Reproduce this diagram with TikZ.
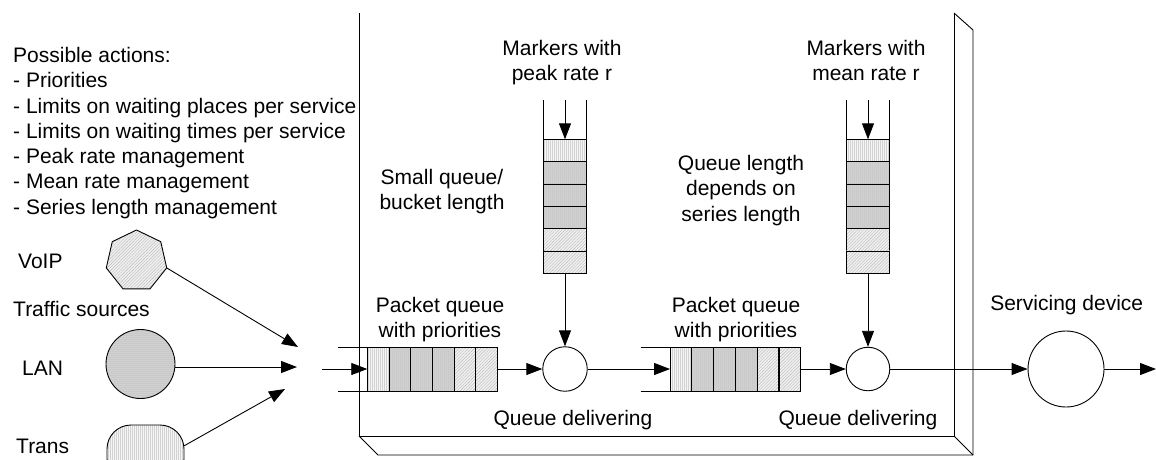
\documentclass[tikz,border=0pt]{standalone}
\usepackage{fontspec}
\setmainfont{Liberation Sans}
\usetikzlibrary{shapes.geometric,patterns.meta,arrows.meta}
\tikzset{
  txt/.style={font=\fontsize{21}{25.3}\selectfont, inner sep=0pt, align=center},
  ln/.style={line width=0.9pt},
  arr/.style={ln, -{Triangle[length=16pt,width=12pt]}},
  lightfill/.style={preaction={fill=gray!8}, pattern={Lines[angle=90,distance=2pt,line width=0.4pt]}, pattern color=gray!35},
  darkfill/.style={preaction={fill=gray!33}, pattern={Dots[radius=0.5pt,distance=2pt]}, pattern color=gray!75},
  hatchfill/.style={preaction={fill=gray!12}, pattern={Lines[angle=45,distance=2.2pt,line width=0.4pt]}, pattern color=gray!55},
  hcell/.style={draw, ln, minimum width=21.7pt, minimum height=44pt, inner sep=0pt, outer sep=0pt},
  vcell/.style={draw, ln, minimum width=43.5pt, minimum height=22.33pt, inner sep=0pt, outer sep=0pt},
  rnd/.style={draw, ln, circle, fill=white, inner sep=0pt},
}
\begin{document}
\begin{tikzpicture}[x=1pt,y=-1pt]
\clip (0,0) rectangle (1156,459);
\fill[white] (0,0) rectangle (1156,459);

% frame (3D box)
\draw[ln] (359,13) -- (359,436) -- (954,436) -- (954,13);
\draw[ln] (954,13) -- (973,30) -- (973,455) -- (378,455) -- (359,436);
\draw[ln] (954,436) -- (973,455);

% left text
\node[txt, align=left, anchor=north west] (actions) at (13,47)
  {Possible actions:\\- Priorities\\- Limits on waiting places per service\\- Limits on waiting times per service\\- Peak rate management\\- Mean rate management\\- Series length management};
\node[txt, anchor=base west] (voipl) at (18,268) {VoIP};
\node[txt, anchor=base west] (srcl) at (13,316) {Traffic sources};
\node[txt, anchor=base west] (lanl) at (22,375) {LAN};
\node[txt, anchor=base west] (transl) at (16,453) {Trans};

% sources
\node[draw, ln, regular polygon, regular polygon sides=7, minimum size=62pt, inner sep=0pt, hatchfill] (voip) at (136.5,261) {};
\node[draw, ln, circle, minimum size=69pt, inner sep=0pt, darkfill] (lan) at (140.5,364) {};
\node[draw, ln, rectangle, rounded corners=24pt, minimum width=77pt, minimum height=58pt, inner sep=0pt, lightfill] (trans) at (145.5,454) {};

\coordinate (t1) at (298,347);
\coordinate (t2) at (297,367);
\coordinate (t3) at (285,389);
\draw[arr] (voip.-13) -- (t1);
\draw[arr] (lan.east |- t2) -- (t2);
\draw[arr] (trans.12) -- (t3);

% queue 1
\foreach \i/\s in {1/lightfill,2/darkfill,3/darkfill,4/darkfill,5/hatchfill,6/hatchfill}
  \node[hcell, \s] (qa\i) at ({367.3+21.67*(\i-0.5)},369) {};
\draw[ln] (338,347) -- (qa1.north west);
\draw[ln] (338,391) -- (qa1.south west);
\coordinate (qin) at (322,369);
\draw[arr] (qin) -- (qa1.west);

% queue 2
\foreach \i/\s in {1/lightfill,2/darkfill,3/darkfill,4/darkfill,5/hatchfill,6/hatchfill}
  \node[hcell, \s] (qb\i) at ({670+21.78*(\i-0.5)},369) {};
\draw[ln] (640.7,347) -- (qb1.north west);
\draw[ln] (640.7,391) -- (qb1.south west);

% delivering circles and servicing device
\node[rnd, minimum size=44.5pt] (c1) at (565,369) {};
\node[rnd, minimum size=43.5pt] (c2) at (868,369) {};
\node[rnd, minimum size=76pt] (srv) at (1066,369) {};
\coordinate (out) at (1156,369);

\draw[arr] (qa6.east) -- (c1.west);
\draw[arr] (c1.east) -- (qb1.west);
\draw[arr] (qb6.east) -- (c2.west);
\draw[arr] (c2.east) -- (srv.west);
\draw[arr] (srv.east) -- (out);

% marker stacks
\foreach \i/\s in {1/lightfill,2/darkfill,3/darkfill,4/darkfill,5/hatchfill,6/hatchfill}{
  \node[vcell, \s] (sa\i) at (565,{139.3+22.33*(\i-0.5)}) {};
  \node[vcell, \s] (sb\i) at (868,{139.3+22.33*(\i-0.5)}) {};
}
\draw[ln] (sa1.north west) -- ++(0,-39.3);
\draw[ln] (sa1.north east) -- ++(0,-39.3);
\draw[ln] (sb1.north west) -- ++(0,-39.3);
\draw[ln] (sb1.north east) -- ++(0,-39.3);
\coordinate (ma) at (565,100);
\coordinate (mb) at (868,100);
\draw[arr] (ma) -- (sa1.north);
\draw[arr] (mb) -- (sb1.north);
\draw[arr] (sa6.south) -- (c1.north);
\draw[arr] (sb6.south) -- (c2.north);

% labels
\node[txt, anchor=north] (mpl) at (562,40) {Markers with\\peak rate r};
\node[txt, anchor=north] (mml) at (866,40) {Markers with\\mean rate r};
\node[txt, anchor=north] (sql) at (442,169) {Small queue/\\bucket length};
\node[txt, anchor=north] (qll) at (741,155) {Queue length\\depends on\\series length};
\node[txt, anchor=north] (pq1) at (440,296.7) {Packet queue\\with priorities};
\node[txt, anchor=north] (pq2) at (736,296.7) {Packet queue\\with priorities};
\node[txt, anchor=base] (qd1) at (573,425) {Queue delivering};
\node[txt, anchor=base] (qd2) at (858,425) {Queue delivering};
\node[txt, anchor=base] (sdl) at (1066.7,310) {Servicing device};
\end{tikzpicture}
\end{document}
